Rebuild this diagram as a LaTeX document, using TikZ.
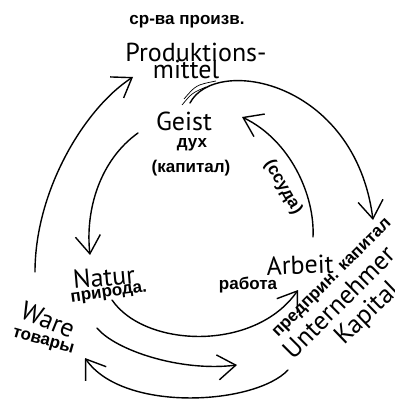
\documentclass[tikz,border=0pt]{standalone}
\usepackage{fontspec}
\setmainfont{Liberation Sans}
\newfontfamily\handfont{PT Sans}
\usepackage{tikz}
\usetikzlibrary{positioning,arrows.meta}
\tikzset{
  hand/.style={font=\handfont\fontsize{26}{27}\selectfont, inner sep=0pt},
  ru/.style={font=\bfseries\fontsize{17}{18}\selectfont, inner sep=0pt},
  arr/.style={-{Straight Barb[length=18pt,width=25pt]}, line width=1.4pt, line cap=round},
}

\begin{document}
\begin{tikzpicture}[x=1pt,y=-1pt,node distance=2pt]
    \useasboundingbox (0,0) rectangle (394,403);
    % Produktionsmittel / Geist
    \node[ru] (sredstva) at (187,22) {ср-ва произв.};
    \node[hand] (prod) at (196,52) {Produktions-};
    \node[hand] (mittel) at (186,69) {mittel};
    \node[hand] (geist) at (184,121) {Geist};
    \node[ru] (dukh) at (192,145) {дух};
    \node[ru] (kapital) at (191,168) {(капитал)};
    \node[ru, rotate=-60] (ssuda) at (283,187) {(ссуда)};
    % Natur / Ware
    \node[hand, rotate=5] (natur) at (104,277) {Natur};
    \node[ru, rotate=8] (priroda) at (109,294) {природа.};
    \node[hand, rotate=-22] (ware) at (48,320) {Ware};
    \node[ru, rotate=-16] (tovary) at (43,342) {товары};
    % Arbeit / Unternehmer
    \node[hand, rotate=2] (arbeit) at (300,265) {Arbeit};
    \node[ru] (rabota) at (248,285) {работа};
    \node[ru, rotate=45] (predprin) at (333,279) {предприн. капитал};
    \node[hand, rotate=45] (unternehmer) at (339,302) {Unternehmer};
    \node[hand, rotate=44] (kapitalde) at (368,314) {Kapital};
    \coordinate (sale) at (237,365);

    \draw[arr] ([shift={(-13,-48)}]ware.center) .. controls +(0,-82) and +(-48,31) .. ([shift={(-53,8)}]mittel.center);
    \draw[arr] ([shift={(4,34)}]mittel.center) .. controls +(25,-48) and +(-18,-140) .. ([shift={(40,-59)}]predprin.center);
    \draw[line width=0.7pt] ([shift={(-2,30)}]mittel.center) .. controls +(12,-14) .. ([shift={(30,12)}]mittel.center);
    \draw[line width=0.7pt] ([shift={(-4,36)}]mittel.center) .. controls +(10,-12) .. ([shift={(20,18)}]mittel.center);
    \draw[arr] ([shift={(-46,12)}]geist.center) .. controls +(-38,27) and +(-5,-45) .. ([shift={(-14,-22)}]natur.center);
    \draw[arr] ([shift={(13,-28)}]arbeit.center) .. controls +(2,-42) and +(48,23) .. ([shift={(58,-4)}]geist.center);
    \draw[arr] ([shift={(3,6)}]priroda.center) .. controls +(33,48) and +(-43,62) .. ([shift={(-2,25)}]arbeit.center);
    \draw[arr] ([shift={(49,8)}]ware.center) .. controls +(18,22) and +(-57,7) .. (sale);
    \draw[arr] ([shift={(-51,68)}]unternehmer.center) .. controls +(-33,35) and +(38,55) .. ([shift={(42,16)}]tovary.center);
  \end{tikzpicture}
\end{document}
